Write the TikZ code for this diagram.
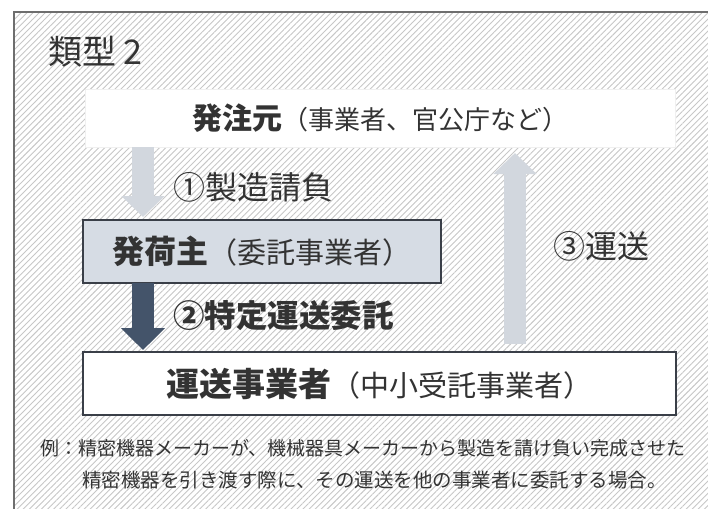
\documentclass[tikz,border=0pt]{standalone}
\usepackage{fontspec}
\newfontfamily\jp{Noto Sans CJK JP}
\usetikzlibrary{arrows.meta,patterns.meta}
\definecolor{txt}{HTML}{333333}
\definecolor{framecol}{HTML}{6E6E6E}
\definecolor{boxline}{HTML}{3A3F48}
\definecolor{shipfill}{HTML}{D6DCE4}
\definecolor{lightarrow}{HTML}{D2D7DE}
\definecolor{darkarrow}{HTML}{44546A}
\tikzset{
  boxnode/.style={inner sep=0pt, outer sep=0pt, text=txt, align=center},
  lbl/.style={inner sep=0pt, anchor=west, text=txt},
  arrowL/.style={draw=lightarrow, line width=22pt, -{Triangle[width=42pt,length=21pt]}},
  arrowD/.style={draw=darkarrow, line width=22pt, -{Triangle[width=43pt,length=22pt]}}
}
\begin{document}
\begin{tikzpicture}[x=1pt,y=-1pt,font=\jp]
\useasboundingbox (0,0) rectangle (708,508);
\begin{scope}
\clip (0,0) rectangle (708,508);
\fill[white] (0,0) rectangle (708,508);
\fill[white] (14,12) rectangle (730,530);
\fill[pattern={Lines[angle=45,distance=4.3pt,line width=0.9pt]}, pattern color=black!22] (14,12) rectangle (730,530);
\draw[framecol, line width=1.3pt] (14,12) rectangle (730,530);
\end{scope}

\coordinate (a1x) at (143,0);
\coordinate (a3x) at (515,0);

\node[lbl] (title) at (48,52) {\fontsize{34}{40}\selectfont 類型 2};

\node[boxnode, fill=white, draw=black!6, line width=1pt, minimum width=590pt, minimum height=57pt] (top) at (380,118.5)
  {{\fontsize{30}{34}\selectfont\bfseries 発注元}{\fontsize{26}{30}\selectfont （事業者、官公庁など）}};

\node[boxnode, fill=shipfill, draw=boxline, line width=2.4pt, minimum width=358pt, minimum height=63pt] (ship) at (262,251.5)
  {{\fontsize{32}{36}\selectfont\bfseries 発荷主}{\fontsize{29}{34}\selectfont （委託事業者）}};

\node[boxnode, fill=white, draw=boxline, line width=2.4pt, minimum width=593pt, minimum height=63pt] (carrier) at (379.5,383.5)
  {{\fontsize{33}{38}\selectfont\bfseries 運送事業者}{\fontsize{29}{34}\selectfont （中小受託事業者）}};

\draw[arrowL, shorten >=3pt] (top.south -| a1x) -- (ship.north -| a1x);
\draw[arrowD, shorten >=2pt] (ship.south -| a1x) -- (carrier.north -| a1x);
\draw[arrowL, shorten <=8pt, shorten >=6pt] (carrier.north -| a3x) -- (top.south -| a3x);

\node[lbl] (l1) at (173,187) {\fontsize{32}{36}\selectfont ①製造請負};
\node[lbl] (l2) at (173,316) {\fontsize{31.5}{36}\selectfont\bfseries ②特定運送委託};
\node[lbl] (l3) at (553,246) {\fontsize{32}{36}\selectfont ③運送};

\node[lbl] (ex1) at (40,448) {\fontsize{19}{22}\selectfont 例：精密機器メーカーが、機械器具メーカーから製造を請け負い完成させた};
\node[lbl] (ex2) at (82,480) {\fontsize{19.5}{22}\selectfont 精密機器を引き渡す際に、その運送を他の事業者に委託する場合。};
\end{tikzpicture}
\end{document}
